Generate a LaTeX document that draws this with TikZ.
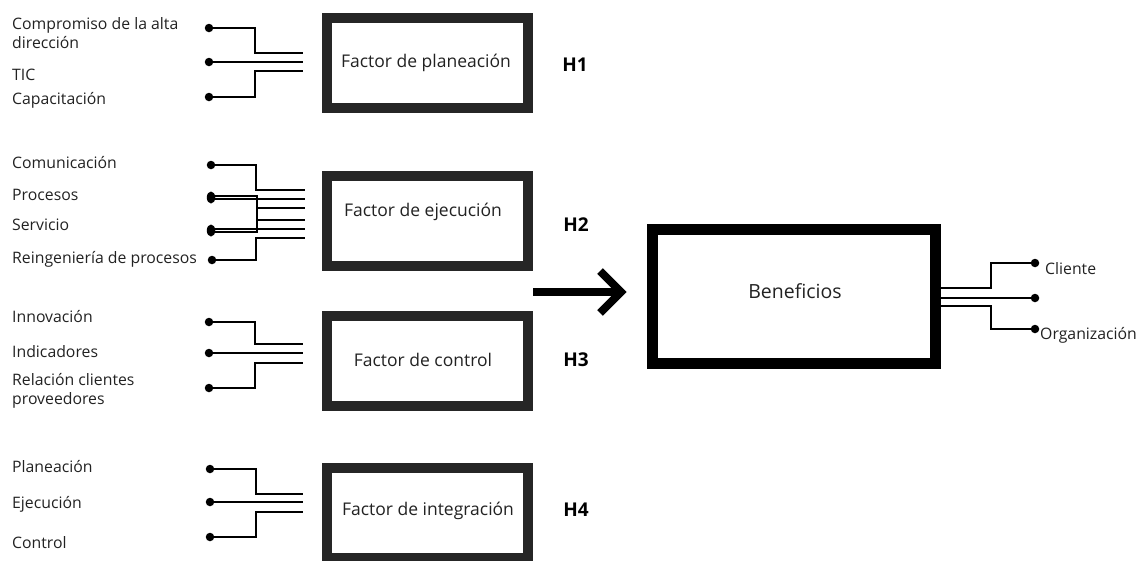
\documentclass[tikz,border=0pt]{standalone}
\usepackage{fontspec}
\setmainfont{Open Sans}
\usetikzlibrary{shapes.geometric}
\definecolor{ink}{HTML}{222222}
\definecolor{frame}{HTML}{262626}

\begin{document}
\begin{tikzpicture}[x=1pt,y=-1pt,
  factorbox/.style={draw=frame, line width=10pt, minimum width=201pt,
    minimum height=90pt, inner sep=0pt},
  bigbox/.style={draw=black, line width=11pt, minimum width=283pt,
    minimum height=134pt, inner sep=0pt},
  boxtext/.style={font=\fontsize{17.5}{20}\selectfont, text=ink, inner sep=0pt},
  hyp/.style={font=\fontsize{19}{22}\selectfont\bfseries, text=black, inner sep=0pt},
  lbl/.style={anchor=base west, font=\fontsize{15.8}{19}\selectfont, text=ink,
    inner sep=0pt, align=left},
  dot/.style={circle, fill=black, inner sep=0pt, minimum size=8.5pt},
  longdot/.style={ellipse, fill=black, inner sep=0pt, minimum width=8.5pt, minimum height=12pt},
  wire/.style={draw=black, line width=1.9pt},
  thick arrow/.style={draw=black, line width=8pt, line join=miter}]

\useasboundingbox (0,0) rectangle (1145,560);

% ---------- factor boxes ----------
\node[factorbox] (f1) at (427.5,63) {};
\node[factorbox] (f2) at (427.5,221) {};
\node[factorbox] (f3) at (427.5,360.5) {};
\node[factorbox] (f4) at (427.5,512.5) {};

\node[boxtext] (f1t) at (426,63) {Factor de planeación};
\node[boxtext] (f2t) at (423,212) {Factor de ejecución};
\node[boxtext] (f3t) at (423,360) {Factor de control};
\node[boxtext] (f4t) at (428,511) {Factor de integración};

% ---------- hypotheses ----------
\node[hyp] (h1) at (575,65) {H1};
\node[hyp] (h2) at (576,225) {H2};
\node[hyp] (h3) at (576,360) {H3};
\node[hyp] (h4) at (576,510) {H4};

% ---------- result box ----------
\node[bigbox] (ben) at (794,296.5) {};
\node[boxtext, font=\fontsize{19.5}{22}\selectfont] (bent) at (795,291) {Beneficios};

% ---------- big arrow ----------
\coordinate (arrtail) at (533,292);
\coordinate (arrtip) at (621,292);
\draw[thick arrow] (arrtail) -- (arrtip);
\draw[thick arrow] (arrtip) ++(-21,-21) -- (arrtip) -- ++(-21,21);

% ---------- group 1: planeación ----------
\node[lbl] (l11) at (12,48) {Compromiso de la alta\\dirección};
\node[lbl] (l12) at (12,80) {TIC};
\node[lbl] (l13) at (12,104) {Capacitación};
\node[dot] (d11) at (209,28) {};
\node[dot] (d12) at (209,62) {};
\node[dot] (d13) at (209,97) {};
\coordinate (e11) at (303,53);
\coordinate (e12) at (303,62);
\coordinate (e13) at (303,71);
\draw[wire] (d11.center) -| ([xshift=-48pt]e11) -- (e11);
\draw[wire] (d12.center) -- (e12);
\draw[wire] (d13.center) -| ([xshift=-48pt]e13) -- (e13);

% ---------- group 2: ejecución ----------
\node[lbl] (l21) at (12,168) {Comunicación};
\node[lbl] (l22) at (12,200) {Procesos};
\node[lbl] (l23) at (12,230) {Servicio};
\node[lbl] (l24) at (12,263) {Reingeniería de procesos};
\node[dot] (d21) at (211,165) {};
\node[longdot] (d22) at (211,197.5) {};
\node[longdot] (d23) at (211,230.5) {};
\node[dot] (d24) at (212,260) {};
\coordinate (e21) at (305,190);
\coordinate (e22) at (305,199);
\coordinate (e23) at (305,208);
\coordinate (e24) at (305,220);
\coordinate (e25) at (305,229);
\coordinate (e26) at (305,238);
\coordinate (bar) at (257,214);
\draw[wire] (d21.center) -| ([xshift=-49pt]e21) -- (e21);
\draw[wire] ([yshift=1.5pt]d22.center) -| (bar |- 0,232) -- ([yshift=-1.5pt]d23.center);
\draw[wire] ([yshift=-1.5pt]d22.center) -- (e22);
\draw[wire] ([yshift=1.5pt]d23.center) -- (e25);
\draw[wire] (bar |- e23) -- (e23);
\draw[wire] (bar |- e24) -- (e24);
\draw[wire] (d24.center) -| ([xshift=-49pt]e26) -- (e26);

% ---------- group 3: control ----------
\node[lbl] (l31) at (12,322) {Innovación};
\node[lbl] (l32) at (12,357) {Indicadores};
\node[lbl] (l33) at (12,404) {Relación clientes\\proveedores};
\node[dot] (d31) at (209,322) {};
\node[dot] (d32) at (209,353) {};
\node[dot] (d33) at (209,388) {};
\coordinate (e31) at (303,344);
\coordinate (e32) at (303,353);
\coordinate (e33) at (303,363);
\draw[wire] (d31.center) -| ([xshift=-48pt]e31) -- (e31);
\draw[wire] (d32.center) -- (e32);
\draw[wire] (d33.center) -| ([xshift=-48pt]e33) -- (e33);

% ---------- group 4: integración ----------
\node[lbl] (l41) at (12,472) {Planeación};
\node[lbl] (l42) at (12,508) {Ejecución};
\node[lbl] (l43) at (12,548) {Control};
\node[dot] (d41) at (210,469) {};
\node[dot] (d42) at (210,502) {};
\node[dot] (d43) at (210,537) {};
\coordinate (e41) at (303,494);
\coordinate (e42) at (303,502);
\coordinate (e43) at (303,512);
\draw[wire] (d41.center) -| ([xshift=-47pt]e41) -- (e41);
\draw[wire] (d42.center) -- (e42);
\draw[wire] (d43.center) -| ([xshift=-47pt]e43) -- (e43);

% ---------- outcomes ----------
\node[dot] (r1) at (1035,263) {};
\node[dot] (r2) at (1035,298) {};
\node[dot] (r3) at (1035,329) {};
\node[lbl] (rl1) at (1045,274) {Cliente};
\node[lbl] (rl3) at (1040,339) {Organización};
\draw[wire] (ben.east |- 0,288) -- ++(50,0) |- (r1.center);
\draw[wire] (ben.east |- r2) -- (r2.center);
\draw[wire] (ben.east |- 0,306) -- ++(50,0) |- (r3.center);
\end{tikzpicture}
\end{document}
